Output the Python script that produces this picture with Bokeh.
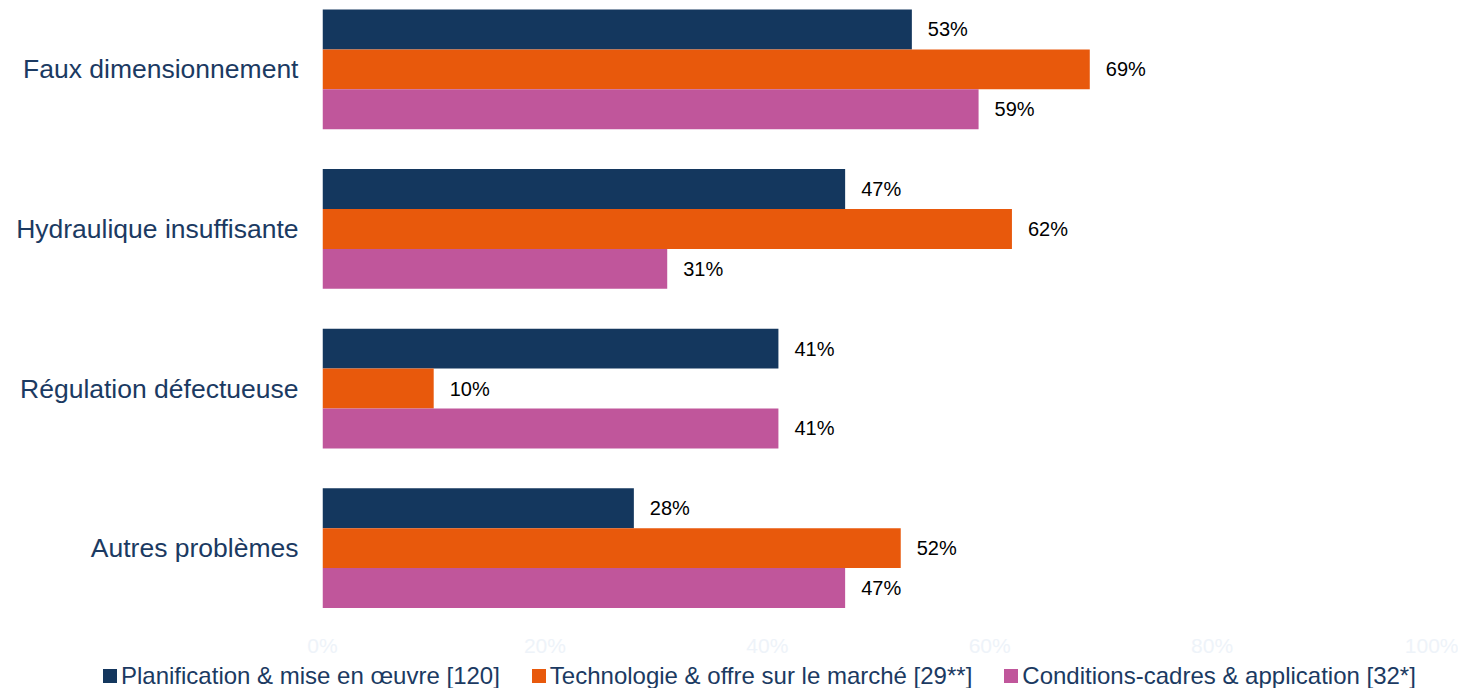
import html
from bokeh.plotting import figure
from bokeh.layouts import column
from bokeh.models import Range1d, FixedTicker, PrintfTickFormatter, ColumnDataSource, Div
from bokeh.embed import file_html
from bokeh.resources import INLINE
from bokeh.core.properties import value

categories = ["Faux dimensionnement", "Hydraulique insuffisante", "Régulation défectueuse", "Autres problèmes"]
series = ["Planification & mise en œuvre [120]", "Technologie & offre sur le marché [29**]", "Conditions-cadres & application [32*]"]
planification = [53, 47, 41, 28]
technologie = [69, 62, 10, 52]
conditions = [59, 31, 41, 47]
colors = ["#14375e", "#e8590c", "#c0569b"]
x_ticks = [0, 20, 40, 60, 80, 100]

FONT = "Liberation Sans"
TXT = "#1b3a62"

n = len(categories)
cat_pos = [n - 1 - i for i in range(n)]
offsets = [0.25, 0.0, -0.25]
bar_h = 0.25

px_per_unit = 159.6
frame_h = 625
y_end = 3.375 + 1.0 / px_per_unit
y_start = y_end - frame_h / px_per_unit

p = figure(frame_width=1112, frame_height=frame_h, min_border_left=322, min_border_right=24,
           min_border_top=8, min_border_bottom=0,
           x_range=Range1d(0, 100), y_range=Range1d(y_start, y_end),
           output_backend="svg", toolbar_location=None)
p.outline_line_color = None
p.xgrid.grid_line_color = None
p.ygrid.grid_line_color = None

for vals, off, col in zip([planification, technologie, conditions], offsets, colors):
    src = ColumnDataSource(dict(y=[c + off for c in cat_pos], right=vals,
                                lbl=[f"{v}%" for v in vals]))
    p.hbar(y="y", left=0, right="right", height=bar_h, source=src,
           fill_color=col, line_color=None)
    p.text(x="right", y="y", text="lbl", source=src, x_offset=16, text_baseline="middle",
           text_align="left", text_font=value(FONT), text_font_size="20px", text_color="#000000")

p.yaxis.ticker = FixedTicker(ticks=cat_pos)
p.yaxis.major_label_overrides = {cp: c for cp, c in zip(cat_pos, categories)}
p.yaxis.major_label_text_font = FONT
p.yaxis.major_label_text_font_size = "26.5px"
p.yaxis.major_label_text_color = TXT
p.yaxis.major_label_standoff = 24
p.yaxis.axis_line_color = None
p.yaxis.major_tick_line_color = None
p.yaxis.minor_tick_line_color = None
p.yaxis.major_tick_out = 0
p.yaxis.major_tick_in = 0

p.xaxis.ticker = FixedTicker(ticks=x_ticks)
p.xaxis.formatter = PrintfTickFormatter(format="%d%%")
p.xaxis.major_label_text_font = FONT
p.xaxis.major_label_text_font_size = "21px"
p.xaxis.major_label_text_color = "#eef3f9"
p.xaxis.major_label_standoff = 0
p.xaxis.axis_line_color = None
p.xaxis.major_tick_line_color = None
p.xaxis.minor_tick_line_color = None
p.xaxis.major_tick_out = 0
p.xaxis.major_tick_in = 0
p.xaxis.minor_tick_out = 0
p.xaxis.axis_label_standoff = 0

# legend strip below the chart
items_html = []
for s, col in zip(series, colors):
    items_html.append(
        '<span style="display:inline-block;margin-right:32px;white-space:nowrap;">'
        f'<span style="display:inline-block;width:14px;height:14px;background:{col};'
        'margin-right:4px;vertical-align:middle;"></span>'
        f'<span style="vertical-align:middle;">{html.escape(s)}</span></span>'
    )
legend_html = (
    f'<div style="font-family:\'{FONT}\';font-size:24px;color:{TXT};white-space:nowrap;'
    f'padding-left:103px;line-height:29px;margin:0;">' + "".join(items_html) + '</div>'
)
lg = Div(text=legend_html, width=1458, height=29, margin=(0, 0, 0, 0))

open("out.html", "w").write(file_html(column(p, lg, spacing=0), INLINE))
